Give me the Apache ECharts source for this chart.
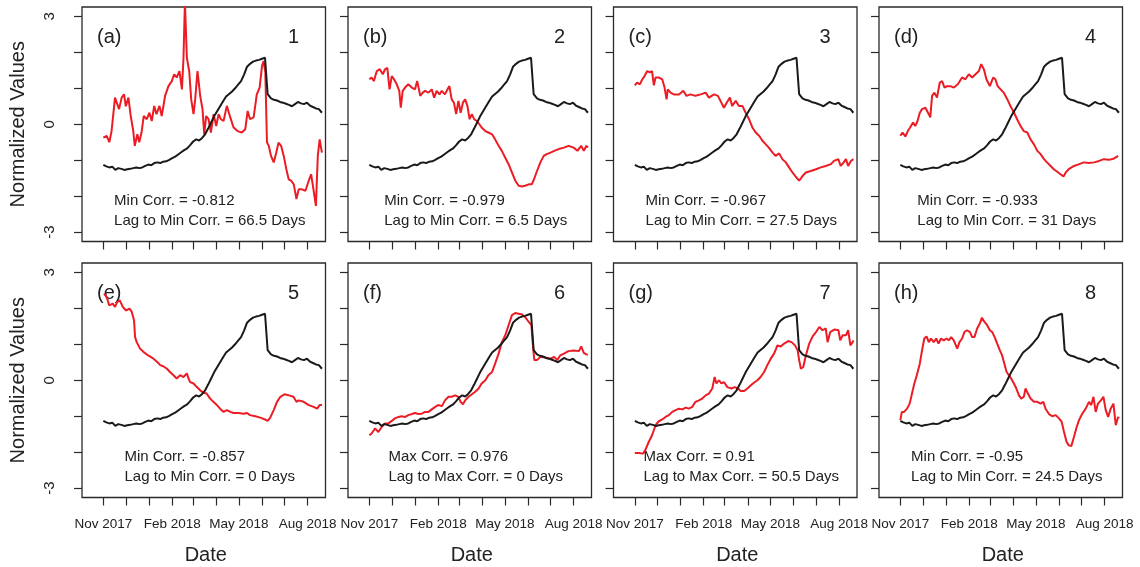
<!DOCTYPE html>
<html><head><meta charset="utf-8">
<script src="https://cdn.jsdelivr.net/npm/echarts@6/dist/echarts.min.js"></script>
<style>html,body{margin:0;padding:0;background:#fff}#c{width:1140px;height:567px}</style>
</head><body><div id="c"></div>
<script>
// ---------- DATA ----------
const panelLetters = ['(a)','(b)','(c)','(d)','(e)','(f)','(g)','(h)'];
const panelNumbers = ['1','2','3','4','5','6','7','8'];
const corrTexts = ['Min Corr. = -0.812','Min Corr. = -0.979','Min Corr. = -0.967','Min Corr. = -0.933',
                   'Min Corr. = -0.857','Max Corr. = 0.976','Max Corr. = 0.91','Min Corr. = -0.95'];
const lagTexts = ['Lag to Min Corr. = 66.5 Days','Lag to Min Corr. = 6.5 Days','Lag to Min Corr. = 27.5 Days','Lag to Min Corr. = 31 Days',
                  'Lag to Min Corr. = 0 Days','Lag to Max Corr. = 0 Days','Lag to Max Corr. = 50.5 Days','Lag to Min Corr. = 24.5 Days'];
// x values are days since 1 Nov 2017
const tickDays = [0,30,61,92,120,151,181,212,242,273];
const labelDays = [0,92,181,273];
const tickLabels = ['Nov 2017','Feb 2018','May 2018','Aug 2018'];
const yTickValues = [-3,-2,-1,0,1,2,3];
const yLabelValues = [-3,0,3];
const yAxisTitle = 'Normalized Values';
const xAxisTitle = 'Date';

const blackDays = [0,4,8,12,16,20,24,28,32,36,40,44,48,52,56,60,64,68,72,76,80,84,88,92,96,100,104,108,112,116,120,124,128,132,136,140,144,148,152,156,160,164,168,172,176,180,184,188,192,196,200,204,208,212,216,218.5,219.5,224,228,232,236,240,244,248,252,256,260,264,268,272,276,280,284,288,292];
const blackVals = [-1.13,-1.17,-1.20,-1.18,-1.27,-1.22,-1.24,-1.27,-1.25,-1.24,-1.22,-1.20,-1.22,-1.20,-1.16,-1.12,-1.14,-1.08,-1.06,-1.08,-1.04,-1.03,-0.99,-0.94,-0.90,-0.84,-0.78,-0.72,-0.67,-0.58,-0.48,-0.42,-0.45,-0.38,-0.28,-0.12,0.05,0.22,0.36,0.50,0.64,0.77,0.84,0.91,1.00,1.10,1.20,1.38,1.60,1.68,1.74,1.77,1.79,1.82,1.85,1.88,0.84,0.72,0.68,0.66,0.62,0.60,0.57,0.54,0.50,0.56,0.62,0.58,0.56,0.60,0.52,0.48,0.44,0.42,0.32];

const aDays = [0,4.5,8,11,15.6,18,21,24.5,27.7,30,33.5,36.6,40,42,45.5,48,51,54,58,61.6,64.7,68,71,75,78,82.5,87,91.5,94.6,98,101.7,105,107,109,111.6,114.7,117.4,120.5,122.7,125.8,129.4,132.5,134.8,137.4,140.6,143.7,147.3,150.8,154,157,160.6,165,169.6,174,179.4,185,189.6,192.8,196,200.8,205,208.8,212,214,216.4,218.6,221,224,227.6,231,234,237.5,241,244.5,247.6,250.8,254.4,258,261,265.5,270,274.4,277.6,281,284,286.5,289,292];
const aVals = [-0.37,-0.32,-0.5,-0.19,0.74,0.79,0.42,0.74,0.83,0.5,0.74,0.23,-0.19,-0.6,-0.28,-0.5,-0.23,0.23,0.14,0.32,0.09,0.51,0.28,0.51,0.23,0.79,1.06,1.2,1.39,1.3,1.48,0.97,1.8,3.4,1.85,1.48,0.69,0.28,0.69,1.48,0.79,0.42,-0.28,0.23,0.14,-0.23,0.28,-0.05,0.28,0.14,0.09,0.51,0.19,-0.09,-0.19,-0.23,-0.14,0.37,0.14,0.19,0.83,1.02,1.62,1.76,1.44,-0.5,-0.6,-0.88,-1.06,-0.79,-0.51,-0.6,-0.88,-1.25,-1.53,-1.57,-1.67,-2.08,-1.81,-1.81,-1.85,-1.57,-1.39,-1.85,-2.27,-0.88,-0.42,-0.79];

const bDays = [0,3,6,10,14,18,21,24,27,30,33,36.6,40,42,44.6,47.7,52,56.7,61,64,68,71.4,74.5,79,83.4,86.6,90,93.7,96.8,101,104.4,107,110,113,116,119,122,125,128,131,134,137,140,143.7,147,150,155,159,164,168,172.7,177,181.6,186,190.5,195,199.5,204,208,213,217,220,224,228.5,233,237,242,247,253,260,266,273,278,283,286.5,290,292];
const bVals = [1.25,1.3,1.2,1.48,1.53,1.39,1.53,1.57,0.97,1.34,1.25,1.11,0.93,0.46,0.93,1.02,1.11,1.02,0.97,1.2,0.79,0.88,0.93,0.88,0.97,0.74,0.93,0.83,0.93,0.83,0.97,1.06,0.69,0.6,0.28,0.65,0.32,0.6,0.69,0.51,0.14,0.28,0.14,0.09,0,-0.09,-0.19,-0.23,-0.28,-0.42,-0.6,-0.74,-0.93,-1.11,-1.34,-1.57,-1.71,-1.73,-1.71,-1.67,-1.67,-1.53,-1.3,-1.06,-0.88,-0.83,-0.79,-0.74,-0.69,-0.65,-0.6,-0.65,-0.74,-0.6,-0.74,-0.6,-0.65];

const cDays = [0,3,6.7,10,13,16.5,20,23,25.4,27.7,32,36.6,39.7,42.4,44,47.7,52,59,64.7,69,74.5,81,88,94.6,99,105.8,111,115.6,119,122.7,127,130,134.8,139,143.7,148,152.6,157,161.5,166,170.5,175,179,184,188,192.8,197,201.7,206,210.6,215,219.5,224,228.5,235,242,248.5,255,262,266,271.8,275,279,282,285,288.7,292];
const cVals = [1.08,1.16,1.11,1.25,1.34,1.48,1.44,1.48,1.08,1.3,1.3,1.25,1.02,0.69,0.97,0.88,0.83,0.83,0.93,0.79,0.83,0.79,0.83,0.88,0.74,0.83,0.79,0.6,0.46,0.6,0.74,0.51,0.65,0.51,0.51,0.32,0.14,-0.09,-0.23,-0.32,-0.46,-0.56,-0.65,-0.79,-0.88,-0.81,-0.97,-1.06,-1.2,-1.34,-1.46,-1.57,-1.44,-1.34,-1.3,-1.25,-1.2,-1.16,-1.11,-1.02,-0.97,-1.16,-1.06,-0.97,-1.16,-1.02,-0.97];

const dDays = [0,3,6.7,10,13,17,20,23,26,29,33.5,38,40,42.4,45.5,49,52.7,55.8,59,62.5,67,71.4,76.8,82.5,87,91.5,96,100.4,105,108,111.6,115,119.6,124,127,130,134,138,143,147,152,156,160.6,165,169.6,174,178.5,183,187.4,192,196,200.8,205,209.7,214,218,221,225,232,239,245,252,259,265.5,272,279,285.6,291];
const dVals = [-0.32,-0.23,-0.34,-0.19,-0.09,0.05,-0.05,0.09,0.32,0.42,0.46,0.28,0.19,0.79,0.88,0.74,1.16,1.2,1.02,1.06,1.06,1.02,1.11,1.3,1.25,1.39,1.3,1.39,1.48,1.67,1.53,1.25,1.06,1.3,1.25,1.06,0.97,0.88,0.69,0.51,0.32,0.14,-0.05,-0.19,-0.23,-0.42,-0.56,-0.74,-0.83,-0.97,-1.06,-1.16,-1.25,-1.32,-1.39,-1.45,-1.34,-1.25,-1.16,-1.11,-1.06,-1.08,-1.06,-1.02,-0.97,-0.99,-0.95,-0.88];

const eDays = [1,4.5,8,12.5,15.6,18.7,22,26,30,35,38,41,42.4,44.6,49,53.5,60,67,72,76,80,85,89,93.7,98,102.6,107,111.6,113.8,116,120.5,125,129.4,134,138,142.8,147,151.7,156,160.6,165,169.6,174,180.7,187.4,192,196,203,209.7,216,219.5,223,227.6,232,236.5,242,248,254,258,261,267.7,274.4,281,285.6,289,292];
const eVals = [2.41,2.31,2.08,2.13,2.04,2.18,2.22,2.04,1.94,1.99,1.9,1.67,1.2,1.06,0.88,0.79,0.69,0.6,0.51,0.42,0.39,0.32,0.23,0.14,0.05,0.14,0.09,0.19,0.05,-0.05,-0.09,-0.19,-0.28,-0.35,-0.37,-0.51,-0.6,-0.69,-0.79,-0.88,-0.83,-0.88,-0.91,-0.91,-0.93,-0.91,-0.97,-1.0,-1.04,-1.09,-1.13,-1.04,-0.83,-0.6,-0.46,-0.39,-0.42,-0.46,-0.6,-0.56,-0.6,-0.69,-0.74,-0.79,-0.69,-0.69];

const fDays = [0,3,7.6,12,16.5,21,25.4,30,34,39,43,48,52,57,61,65.6,70,74.5,79,83.4,88,92,97,101,105.8,110,114.7,119,122,125,128,132.5,137,141.5,146,150,155,159,164,168,172.7,177,181.6,186,190.5,195,199.5,204,208,213,216.5,218.7,220.4,224,228.5,235,242,247,251,255,260,266,273,280,283,286.5,290,292];
const fVals = [-1.53,-1.48,-1.34,-1.44,-1.3,-1.2,-1.2,-1.13,-1.06,-1.02,-1.0,-1.02,-0.97,-0.94,-0.91,-0.94,-0.93,-0.88,-0.88,-0.81,-0.74,-0.69,-0.72,-0.56,-0.46,-0.46,-0.42,-0.46,-0.6,-0.67,-0.56,-0.46,-0.39,-0.32,-0.23,-0.09,0,0.14,0.23,0.46,0.74,1.06,1.25,1.53,1.81,1.87,1.85,1.83,1.76,1.62,1.53,0.93,0.56,0.56,0.65,0.63,0.6,0.65,0.56,0.69,0.74,0.81,0.83,0.81,0.94,0.76,0.72,0.71];

const gDays = [0,5.4,11,14,18.7,23,27.7,32,36.6,41,45.5,50,54.5,59,63.4,68,72,76.8,81,85.6,90,94.6,99,103.5,106.6,109,112.4,115.6,119,123.6,129,133.4,138,141.5,146,150.4,155,159,163.8,168,172.7,177,181.6,186,190.5,195,199.5,205,209.4,214,217.5,219.5,221.8,225,228.5,233,237.5,242,246.5,250.8,255,257.5,261,266.4,272,274.4,277.6,282,285,288,291,292];
const gVals = [-2.02,-2.02,-2.04,-1.94,-1.71,-1.53,-1.25,-1.14,-1.09,-1.02,-0.97,-0.88,-0.83,-0.79,-0.81,-0.76,-0.79,-0.74,-0.6,-0.56,-0.51,-0.42,-0.37,-0.23,0.09,-0.09,0,-0.09,-0.05,-0.19,-0.23,-0.19,-0.23,-0.3,-0.3,-0.23,-0.14,-0.07,0,0.09,0.23,0.42,0.6,0.74,0.97,0.94,1.02,1.09,1.06,0.97,0.83,0.56,0.32,0.37,0.69,1.02,1.22,1.34,1.48,1.39,1.44,1.06,1.34,1.41,1.39,1.11,1.25,1.25,1.39,0.97,1.06,1.11];

const hDays = [0,2,5,9,12.5,15.6,18.7,22,26,29,32,35,38,41,44.6,48,51,54.4,58,61.6,64.7,68,71.4,76,79,82.5,85.6,89,93,96,99,102.6,106,109,112.4,116,119.6,122.7,126,129.4,133,136,139,142,145,148,151.7,155,158.5,161.5,165,167.3,170.4,174,178.5,183,187.4,191,194,198.6,203,207.5,212,215.6,218.7,222,225,228.5,232,235.6,238.7,243,247.6,252,255,258,261,264,268,271.3,274.4,277.6,281,284.7,287.8,290.9,292];
const hVals = [-1.11,-0.88,-0.88,-0.79,-0.65,-0.37,-0.09,0.14,0.46,0.83,1.16,1.22,1.06,1.16,1.06,1.16,1.02,1.16,1.11,1.16,1.11,1.2,1.11,0.88,1.06,1.16,1.34,1.39,1.34,1.2,1.2,1.44,1.57,1.74,1.62,1.53,1.39,1.34,1.2,1.02,0.83,0.69,0.46,0.23,0.14,0.05,-0.09,-0.23,-0.42,-0.51,-0.46,-0.23,-0.37,-0.51,-0.6,-0.6,-0.65,-0.6,-0.79,-0.94,-1.0,-0.97,-1.06,-1.16,-1.44,-1.71,-1.81,-1.83,-1.57,-1.3,-1.11,-0.93,-0.79,-0.6,-0.69,-0.46,-0.88,-0.65,-0.56,-0.46,-0.83,-1.02,-0.79,-0.65,-1.25,-1.02,-1.06];

// ---------- LAYOUT ----------
const redDaysList = [aDays,bDays,cDays,dDays,eDays,fDays,gDays,hDays];
const redValsList = [aVals,bVals,cVals,dVals,eVals,fVals,gVals,hVals];
const colLefts = [82, 348, 613.5, 879];
const rowTops = [7, 263];
const GW = 243.5, GH = 234.5;
const XMIN = -28.5, XMAX = 296.8, YMIN = -3.26, YMAX = 3.26;
const FONT = '"Liberation Sans", Arial, Helvetica, sans-serif';
const RED = '#ec1c24', BLACK = '#1a1a1a', AX = '#2a2a2a';

function zip(xs, ys){ const out=[]; const n=Math.min(xs.length, ys.length); for(let i=0;i<n;i++) out.push([xs[i], ys[i]]); return out; }
const mctx = document.createElement('canvas').getContext('2d');
mctx.font = '15px ' + FONT;

const grids=[], xAxes=[], yAxes=[], series=[], graphics=[];
for (let i=0;i<8;i++){
  const col=i%4, row=Math.floor(i/4);
  const L=colLefts[col], T=rowTops[row];
  grids.push({left:L, top:T, width:GW, height:GH, show:true, borderColor:AX, borderWidth:1.3,
    backgroundColor:'transparent', containLabel:false, outerBoundsMode:'none'});
  xAxes.push({gridIndex:i, type:'value', min:XMIN, max:XMAX, position:'bottom',
    axisLine:{show:false, onZero:false}, splitLine:{show:false},
    axisTick:{show:true, inside:false, length:8, lineStyle:{color:AX, width:1.2}, customValues:tickDays},
    axisLabel:{show:row===1, customValues:labelDays, margin:20, fontSize:13.5, color:'#222', fontFamily:FONT,
      formatter:(v)=>{ const k=labelDays.indexOf(Math.round(v)); return k>=0?tickLabels[k]:''; }}});
  yAxes.push({gridIndex:i, type:'value', min:YMIN, max:YMAX, position:'left',
    axisLine:{show:false, onZero:false}, splitLine:{show:false},
    axisTick:{show:true, inside:false, length:8, lineStyle:{color:AX, width:1.2}, customValues:yTickValues},
    axisLabel:{show:col===0, customValues:yLabelValues, rotate:90, margin:25, fontSize:15, color:'#222', fontFamily:FONT,
      formatter:(v)=>String(Math.round(v))}});
  series.push({type:'line', xAxisIndex:i, yAxisIndex:i, data:zip(redDaysList[i], redValsList[i]),
    showSymbol:false, symbol:'none', clip:true, lineStyle:{color:RED, width:2}, z:2, animation:false});
  series.push({type:'line', xAxisIndex:i, yAxisIndex:i, data:zip(blackDays, blackVals),
    showSymbol:false, symbol:'none', clip:true, lineStyle:{color:BLACK, width:2}, z:3, animation:false});

  graphics.push({type:'text', x:L+15, y:T+30, style:{text:panelLetters[i], font:'20px '+FONT, fill:'#222',
    textAlign:'left', textVerticalAlign:'middle', align:'left', verticalAlign:'middle'}});
  graphics.push({type:'text', x:L+GW-32, y:T+30, style:{text:panelNumbers[i], font:'20px '+FONT, fill:'#222',
    textAlign:'center', textVerticalAlign:'middle', align:'center', verticalAlign:'middle'}});
  const w = Math.max(mctx.measureText(corrTexts[i]).width, mctx.measureText(lagTexts[i]).width);
  const tx = L + GW/2 + 6 - w/2;
  graphics.push({type:'text', x:tx, y:T+194, style:{text:corrTexts[i], font:'15px '+FONT, fill:'#222',
    textAlign:'left', textVerticalAlign:'middle', align:'left', verticalAlign:'middle'}});
  graphics.push({type:'text', x:tx, y:T+214, style:{text:lagTexts[i], font:'15px '+FONT, fill:'#222',
    textAlign:'left', textVerticalAlign:'middle', align:'left', verticalAlign:'middle'}});
}
for (let r=0;r<2;r++){
  graphics.push({type:'text', x:18, y:rowTops[r]+GH/2, rotation:Math.PI/2,
    style:{text:yAxisTitle, font:'20px '+FONT, fill:'#222', textAlign:'center', textVerticalAlign:'middle', align:'center', verticalAlign:'middle'}});
}
for (let c=0;c<4;c++){
  graphics.push({type:'text', x:colLefts[c]+GW/2+2, y:555,
    style:{text:xAxisTitle, font:'20px '+FONT, fill:'#222', textAlign:'center', textVerticalAlign:'middle', align:'center', verticalAlign:'middle'}});
}

const chart = echarts.init(document.getElementById('c'), null, {renderer:'canvas'});
chart.setOption({animation:false, backgroundColor:'#fff', grid:grids, xAxis:xAxes, yAxis:yAxes, series:series, graphic:graphics});
</script></body></html>
